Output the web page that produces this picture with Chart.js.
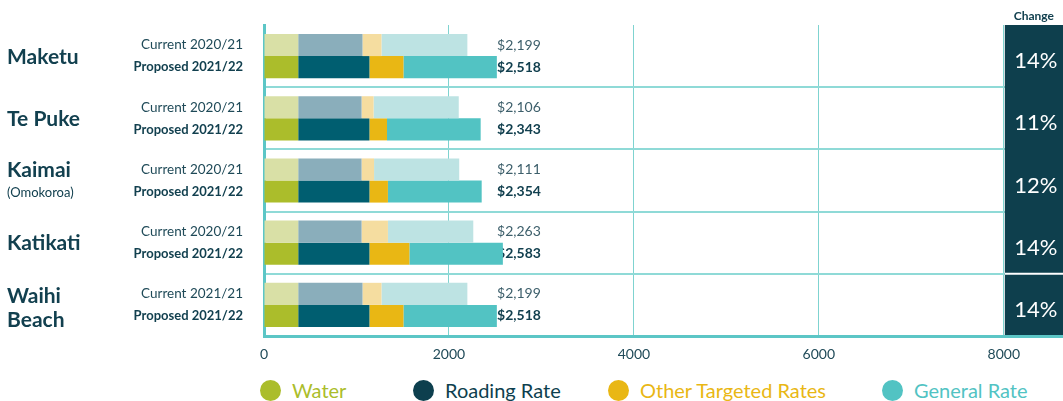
<!DOCTYPE html>
<html>
<head>
<meta charset="utf-8">
<script src="https://cdn.jsdelivr.net/npm/chart.js@4.4.1/dist/chart.umd.min.js"></script>
<style>
  html,body{margin:0;padding:0;background:#fff;}
  body{width:1063px;height:401px;overflow:hidden;font-family:Lato,sans-serif;}
  .wrap{position:relative;width:1063px;height:365px;}
  .legend{position:absolute;top:378px;left:0;width:1063px;height:24px;}
  .legend span{position:absolute;top:0;font-size:20px;line-height:24px;white-space:nowrap;}
  .legend i{position:absolute;top:2px;width:21px;height:21px;border-radius:50%;}
</style>
</head>
<body>
<div class="wrap"><canvas id="c"></canvas></div>
<div class="legend" id="legend"></div>
<script>
// towns, bars from top to bottom
const towns = ["Maketu", "Te Puke", "Kaimai", "Katikati", "Waihi Beach"];
const townSub = ["", "", "(Omokoroa)", "", ""];
const currentLabels = ["Current 2020/21", "Current 2020/21", "Current 2020/21", "Current 2020/21", "Current 2021/21"];
const proposedLabel = "Proposed 2021/22";

const series = ["Water", "Roading Rate", "Other Targeted Rates", "General Rate"];

// current 2020/21
const curWater   = [370, 370, 370, 370, 370];
const curRoading = [695, 685, 685, 685, 695];
const curOther   = [205, 130, 135, 285, 205];
const curGeneral = [929, 921, 921, 923, 929];
const curTotal   = ["$2,199", "$2,106", "$2,111", "$2,263", "$2,199"];

// proposed 2021/22
const propWater   = [370, 370, 370, 370, 370];
const propRoading = [770, 770, 770, 770, 770];
const propOther   = [368, 190, 200, 432, 368];
const propGeneral = [1010, 1013, 1014, 1011, 1010];
const propTotal   = ["$2,518", "$2,343", "$2,354", "$2,583", "$2,518"];

const change = ["14%", "11%", "12%", "14%", "14%"];
const xTicks = [0, 2000, 4000, 6000, 8000];

const colDark = ["#abbd2b", "#005e70", "#e9b714", "#52c3c3"];
const colLight = ["#d9e0a6", "#8aaebb", "#f5dda0", "#bde3e3"];
const legendCol = ["#abbd2b", "#0d3f4e", "#e9b714", "#52c3c3"];
const navy = "#12404f";

const curData = [curWater, curRoading, curOther, curGeneral];
const propData = [propWater, propRoading, propOther, propGeneral];

let datasets = [];
for (let i = 0; i < 4; i++) {
  datasets.push({label: series[i], data: curData[i], backgroundColor: colLight[i], stack: "cur"});
}
for (let i = 0; i < 4; i++) {
  datasets.push({label: series[i], data: propData[i], backgroundColor: colDark[i], stack: "prop"});
}

// labels and the change column
const sidePlugin = {
  id: "side",
  beforeDatasetsDraw(chart) {
    const c = chart.ctx, x = chart.scales.x;
    const m0 = chart.getDatasetMeta(0), m4 = chart.getDatasetMeta(4);
    const lx = x.getPixelForValue(2520);
    c.save();
    c.textBaseline = "middle";
    c.textAlign = "left";
    for (let i = 0; i < towns.length; i++) {
      c.fillStyle = "#3d5f6b";
      c.font = "14px Lato";
      c.fillText(curTotal[i], lx, m0.data[i].y);
      c.fillStyle = navy;
      c.font = "bold 14px Lato";
      c.fillText(propTotal[i], lx, m4.data[i].y);
    }
    c.restore();
  },
  afterDraw(chart) {
    const c = chart.ctx, x = chart.scales.x, y = chart.scales.y, a = chart.chartArea;
    const m0 = chart.getDatasetMeta(0), m4 = chart.getDatasetMeta(4);
    c.save();
    c.textBaseline = "middle";
    // left side text
    for (let i = 0; i < towns.length; i++) {
      const cy = y.getPixelForValue(i);
      c.fillStyle = navy;
      c.textAlign = "left";
      c.font = "bold 21px Lato";
      if (towns[i] == "Waihi Beach") {
        c.fillText("Waihi", 7, cy - 9);
        c.fillText("Beach", 7, cy + 15);
      } else if (townSub[i]) {
        c.fillText(towns[i], 7, cy - 10);
        c.font = "13px Lato";
        c.fillText(townSub[i], 7, cy + 12);
      } else {
        c.fillText(towns[i], 7, cy + 1);
      }
      c.textAlign = "right";
      c.font = "13.5px Lato";
      c.fillStyle = "#1f4a58";
      c.fillText(currentLabels[i], 243, m0.data[i].y);
      c.font = "bold 13px Lato";
      c.fillStyle = navy;
      c.fillText(proposedLabel, 243, m4.data[i].y);
    }
    // change column
    const bx = x.getPixelForValue(8000) + 1;
    c.fillStyle = "#0e3f4d";
    c.fillRect(bx, a.top, a.right - bx, a.bottom - a.top - 1);
    c.strokeStyle = "#ffffff";
    c.lineWidth = 2;
    const sep = (y.getPixelForValue(3) + y.getPixelForValue(4)) / 2;
    c.beginPath();
    c.moveTo(bx, sep);
    c.lineTo(a.right, sep);
    c.stroke();
    c.textAlign = "center";
    c.fillStyle = navy;
    c.font = "bold 12px Lato";
    c.fillText("Change", (bx + a.right) / 2, a.top - 9);
    c.fillStyle = "#ffffff";
    c.font = "22px Lato";
    for (let i = 0; i < change.length; i++) {
      c.fillText(change[i], (bx + a.right) / 2 + 2, y.getPixelForValue(i) + 5);
    }
    c.restore();
  }
};

new Chart(document.getElementById("c"), {
  type: "bar",
  data: {labels: towns, datasets: datasets},
  options: {
    indexAxis: "y",
    responsive: true,
    maintainAspectRatio: false,
    animation: false,
    layout: {padding: {top: 25, right: 0, bottom: 0, left: 0}},
    datasets: {bar: {categoryPercentage: 0.71, barPercentage: 1.0, borderWidth: 0}},
    plugins: {legend: {display: false}, tooltip: {enabled: false}},
    scales: {
      x: {
        min: 0,
        max: 8640,
        stacked: true,
        afterBuildTicks(s) { s.ticks = xTicks.map(v => ({value: v})); },
        afterFit(s) { s.height = 29; },
        ticks: {
          padding: 10,
          color: "#1f4a58",
          font: {family: "Lato", size: 14},
          callback: (v) => String(v)
        },
        grid: {color: "#7fd3d0", lineWidth: 1, drawTicks: false},
        border: {color: "#5cc6c6", width: 3}
      },
      y: {
        stacked: true,
        afterFit(s) { s.width = 264; },
        ticks: {display: false},
        grid: {
          color: (ctx) => ctx.index == 0 ? "rgba(0,0,0,0)" : "#8fdad7",
          lineWidth: 2,
          drawTicks: false
        },
        border: {color: "#5cc6c6", width: 3}
      }
    }
  },
  plugins: [sidePlugin]
});

// legend
const legendX = [260, 413, 608, 882];
const lg = document.getElementById("legend");
for (let i = 0; i < series.length; i++) {
  lg.insertAdjacentHTML("beforeend",
    '<i style="left:' + legendX[i] + 'px;background:' + legendCol[i] + '"></i>' +
    '<span style="left:' + (legendX[i] + 32) + 'px;color:' + legendCol[i] + '">' + series[i] + '</span>');
}
</script>
</body>
</html>
